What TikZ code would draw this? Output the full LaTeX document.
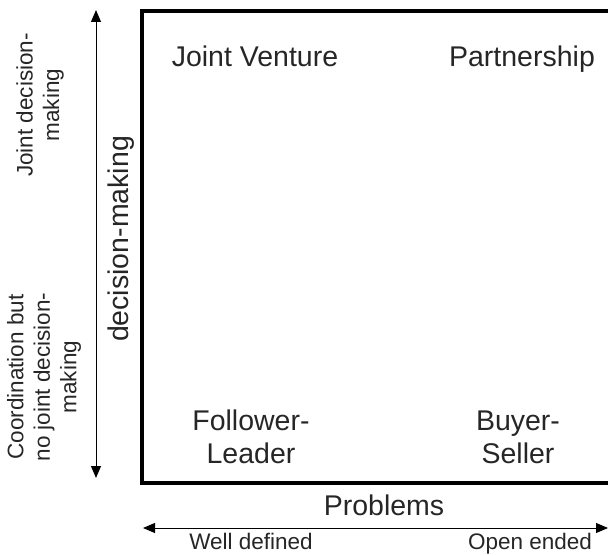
\documentclass[tikz,border=0pt]{standalone}
\usepackage{fontspec}
\setmainfont{Liberation Sans}
\usetikzlibrary{arrows.meta}
\tikzset{
  cell/.style={font=\fontsize{28.5}{32.5}\selectfont, align=center, text=black!85},
  axislabel/.style={font=\fontsize{22.5}{26.5}\selectfont, align=center, text=black!85},
  axis/.style={line width=1pt, {Triangle[length=12pt,width=10pt]}-{Triangle[length=12pt,width=10pt]}}
}
\begin{document}
\begin{tikzpicture}[x=1pt,y=1pt]
            \useasboundingbox (0,0) rectangle (608,555);
            % Coordinates
            \coordinate (BL) at (142,72);
            \coordinate (TR) at (660,544);
            \coordinate (VT) at (96,545);
            \coordinate (VB) at (96,77);
            \coordinate (HL) at (143,27);
            \coordinate (HR) at (608,27);
            % Box
            \draw[line width=3.5pt] (BL) rectangle (TR);
            % Arrows
            \draw[axis] (VB) -- (VT);
            \draw[axis] (HL) -- (HR);
            % Labels
            \node (jv) at (255,488) [cell, anchor=base] {Joint Venture};
            \node (ps) at (522,488) [cell, anchor=base] {Partnership};
            \node (fl) at (251,92) [cell, anchor=base] {Follower-\\Leader};
            \node (bs) at (518,92) [cell, anchor=base] {Buyer-\\Seller};
            \node (dm) at (121,316) [cell, rotate=90] {decision-making};
            \node (pr) at (384,40) [cell, anchor=base] {Problems};
            \node (wd) at (251,6) [axislabel, anchor=base] {Well defined};
            \node (oe) at (530,6) [axislabel, anchor=base] {Open ended};
            \node (jd) at (40,450) [axislabel, rotate=90] {Joint decision-\\making};
            \node (cd) at (44,178) [axislabel, rotate=90] {Coordination but\\no joint decision-\\making};
        \end{tikzpicture}
\end{document}
